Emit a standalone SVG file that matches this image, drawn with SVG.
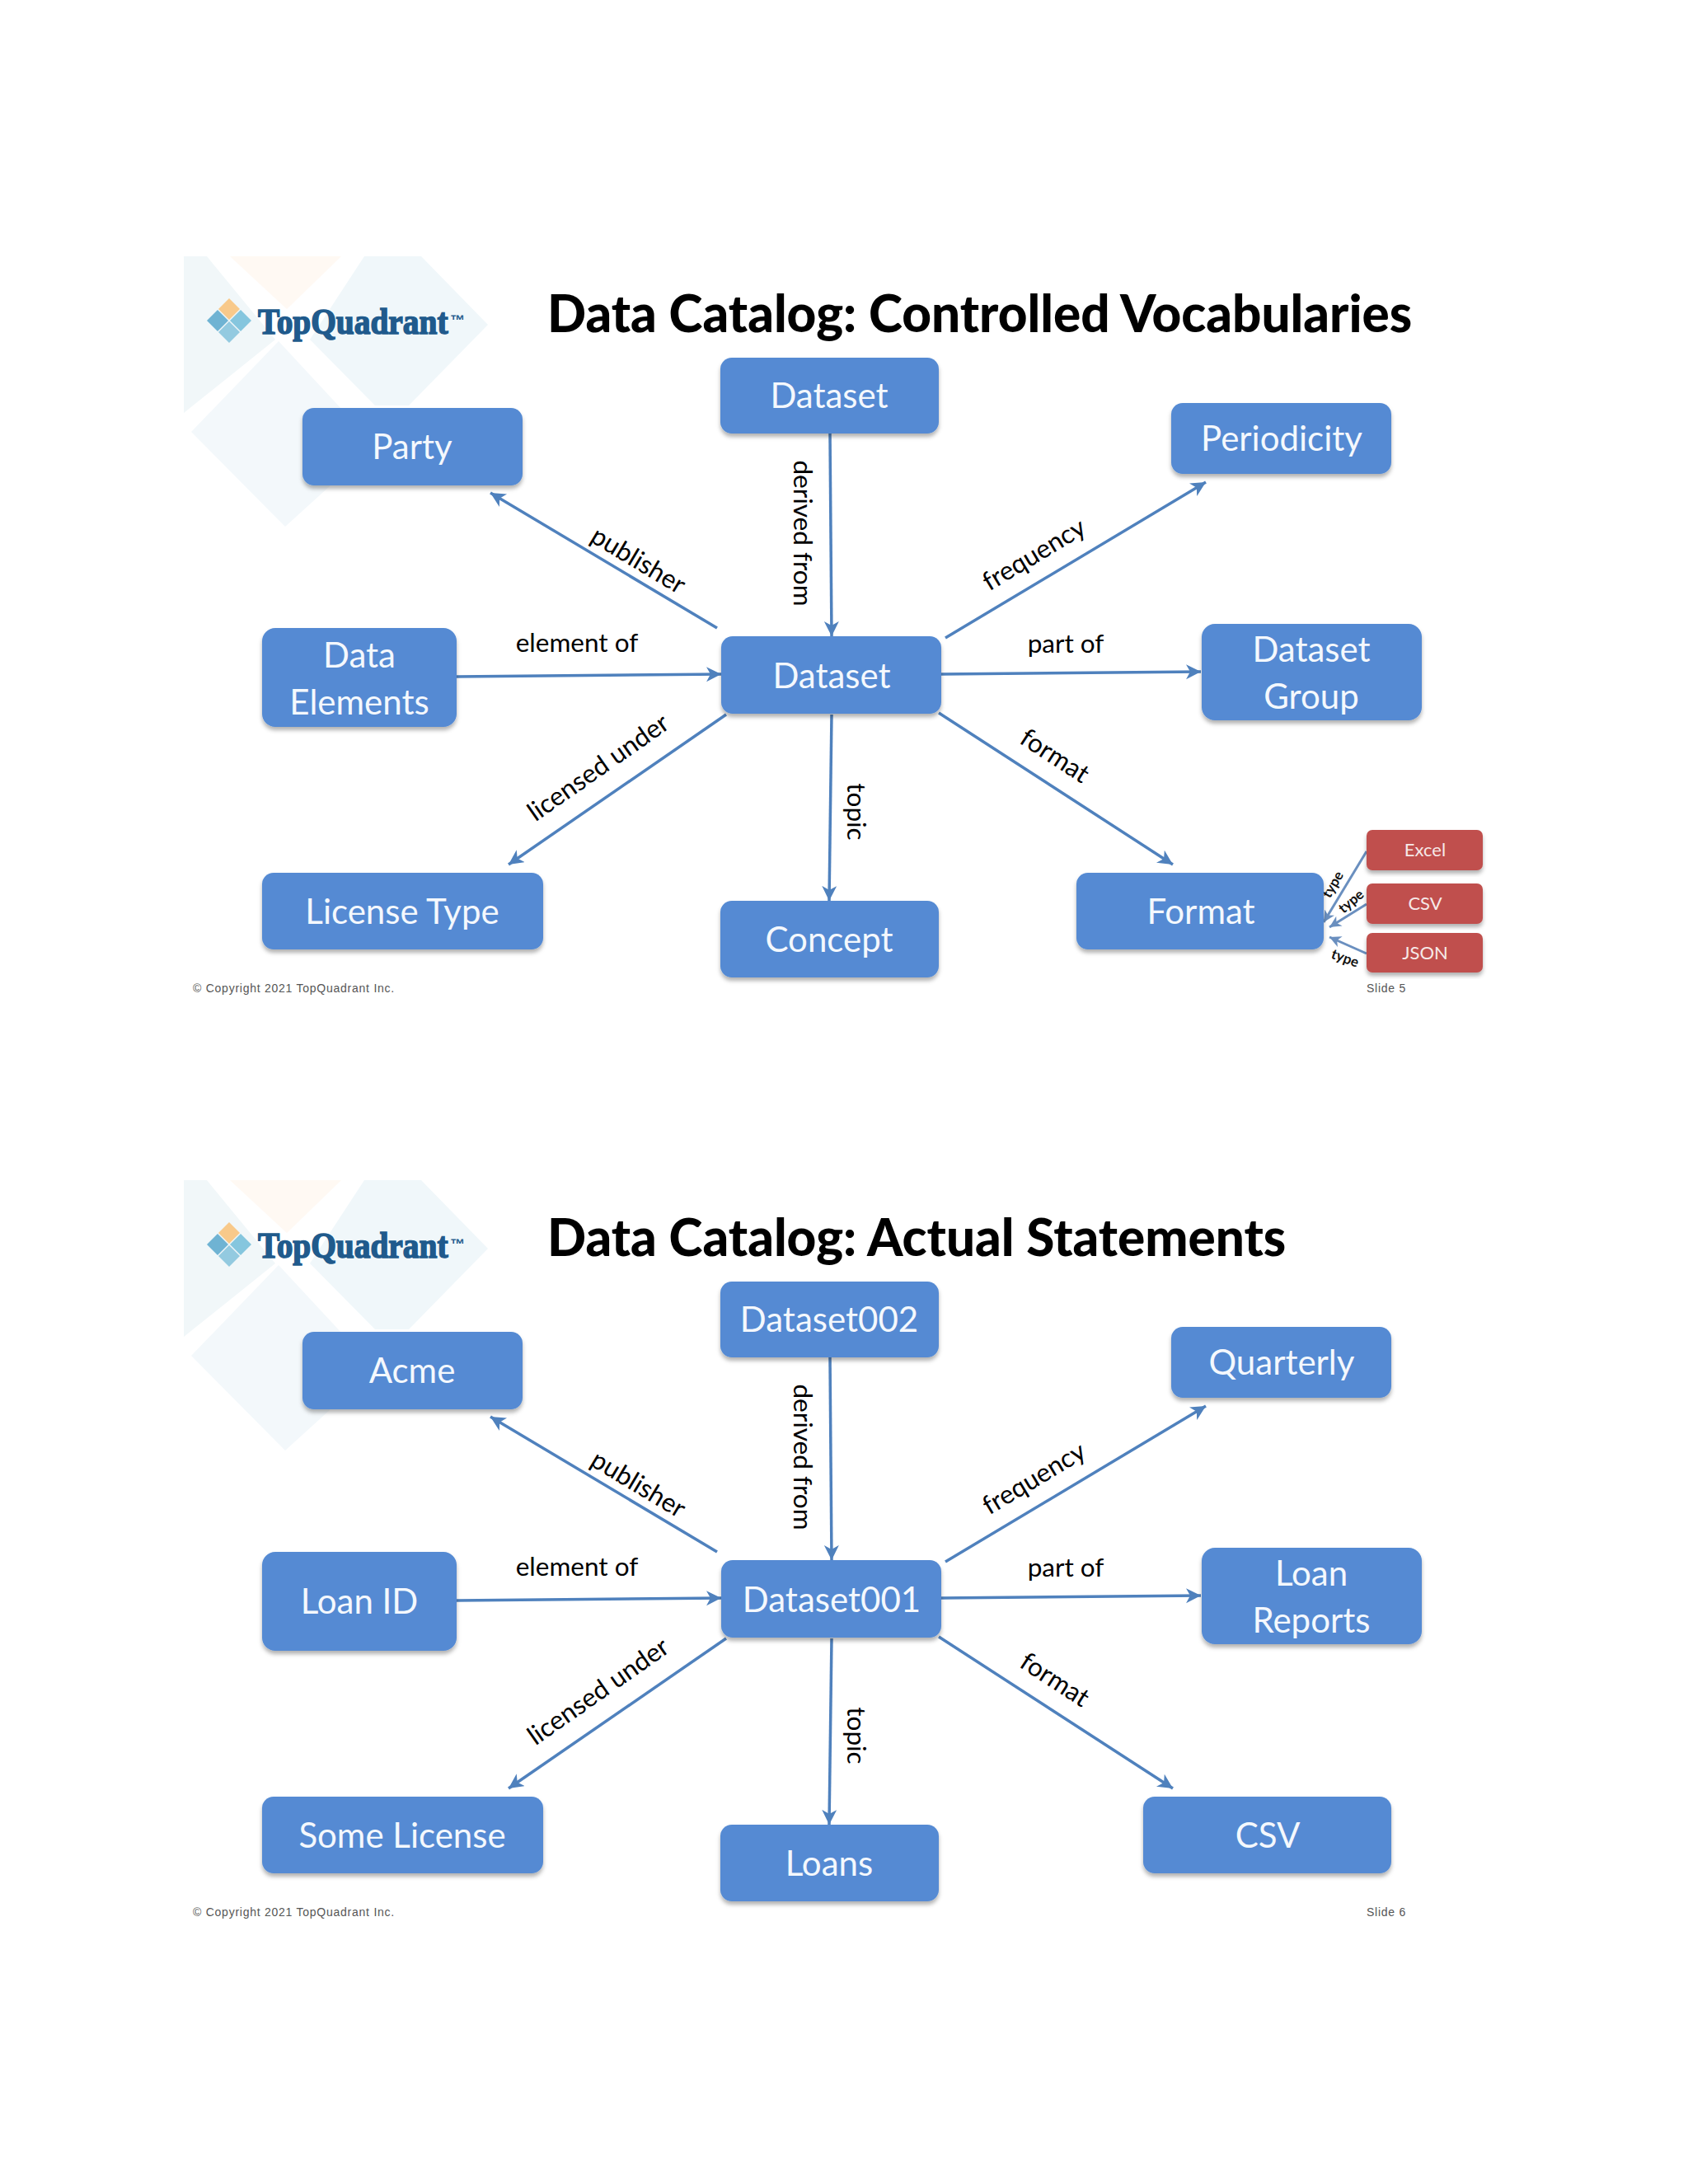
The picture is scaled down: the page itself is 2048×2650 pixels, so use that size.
<svg xmlns="http://www.w3.org/2000/svg" width="2048" height="2650" viewBox="0 0 2048 2650">
<defs>
<style>
.n{fill:#548ad3;filter:url(#sh)}
.r{fill:#c0504d;filter:url(#sh)}
.nt{font-family:Lato,"Noto Sans",sans-serif;font-size:42px;fill:#f4f8fd;text-anchor:middle}
.rt{font-family:Lato,"Noto Sans",sans-serif;font-size:22px;fill:#f6e9e8;text-anchor:middle}
.t{font-family:Lato,"Noto Sans",sans-serif;font-size:62px;font-weight:900;fill:#000}
.l{font-family:Lato,"Noto Sans",sans-serif;font-size:31.5px;fill:#000;text-anchor:middle}
.ty{font-family:Lato,"Noto Sans",sans-serif;font-size:17px;font-weight:700;fill:#111;text-anchor:middle}
.f{font-family:"Liberation Sans",Arial,sans-serif;font-size:14px;fill:#555;letter-spacing:.75px}
.lg{font-family:"Liberation Serif",serif;font-weight:700;font-size:44px;fill:#205a8c;stroke:#205a8c;stroke-width:1.6}
.tm{font-family:"Liberation Sans",sans-serif;font-size:18px;font-weight:700;fill:#205a8c}
.c{fill:none;stroke:#4f81bd;stroke-width:3.5;marker-end:url(#a)}
.c2{fill:none;stroke:#6a8fbf;stroke-width:3;marker-end:url(#a2)}
</style>
<filter id="sh" x="-5%" y="-10%" width="110%" height="125%"><feDropShadow dx="0" dy="4" stdDeviation="2.5" flood-color="#000" flood-opacity=".3"/></filter>
<marker id="a" markerUnits="userSpaceOnUse" markerWidth="22" markerHeight="22" refX="18" refY="9" orient="auto"><path d="M0 0L18 9L0 18L5 9Z" fill="#4f81bd"/></marker>
<marker id="a2" markerUnits="userSpaceOnUse" markerWidth="18" markerHeight="18" refX="14" refY="7" orient="auto"><path d="M0 0L14 7L0 14L4 7Z" fill="#6a8fbf"/></marker>
<g id="bg">
<polygon points="223,311 251,311 334,412 223,501" fill="#f1f7f9"/>
<polygon points="279,311 414,311 348,375" fill="#fff9f3"/>
<polygon points="442,311 511,311 592,394 496,492 455,492 376,412" fill="#f0f7fa"/>
<polygon points="232,524 338,414 455,540 346,639" fill="#f3f8fb"/>
<polygon points="278,362 291,375 278,388 265,375" fill="#f8c98a"/>
<polygon points="264,376 277,389 264,402 251,389" fill="#6fb3d3"/>
<polygon points="292,376 305,389 292,402 279,389" fill="#85c6de"/>
<polygon points="278,390 291,403 278,416 265,403" fill="#93cae0"/>
</g>
</defs>
<rect width="2048" height="2650" fill="#fff"/>

<g id="slide5">
<use href="#bg"/>
<g id="logo5"><text class="lg" transform="translate(313,405) scale(.895,1)">TopQuadrant</text><text class="tm" x="546" y="395">™</text></g>
<text class="t" x="664" y="403">Data Catalog: Controlled Vocabularies</text>
<g id="connectors5">
<line class="c" x1="870" y1="762" x2="595" y2="598"/>
<line class="c" x1="1007" y1="526" x2="1009" y2="772"/>
<line class="c" x1="1147" y1="774" x2="1463" y2="585"/>
<line class="c" x1="554" y1="821" x2="875" y2="818"/>
<line class="c" x1="1142" y1="818" x2="1457" y2="815"/>
<line class="c" x1="881" y1="867" x2="617" y2="1049"/>
<line class="c" x1="1009" y1="867" x2="1006" y2="1093"/>
<line class="c" x1="1139" y1="865" x2="1423" y2="1049"/>
<line class="c2" x1="1658" y1="1033" x2="1606" y2="1119"/>
<line class="c2" x1="1658" y1="1097" x2="1613" y2="1125"/>
<line class="c2" x1="1658" y1="1157" x2="1613" y2="1137"/>
</g>
<g id="labels5">
<text class="l" transform="translate(769,689) rotate(31)">publisher</text>
<text class="l" transform="translate(963,647) rotate(90)">derived from</text>
<text class="l" transform="translate(1260,682) rotate(-31)">frequency</text>
<text class="l" x="700" y="791">element of</text>
<text class="l" x="1293" y="792">part of</text>
<text class="l" transform="translate(732,940) rotate(-35)">licensed under</text>
<text class="l" transform="translate(1274,926) rotate(33)">format</text>
<text class="l" transform="translate(1028,985) rotate(90)">topic</text>
<text class="ty" transform="translate(1622,1076) rotate(-60)">type</text>
<text class="ty" transform="translate(1643,1098) rotate(-40)">type</text>
<text class="ty" transform="translate(1630,1168) rotate(20)">type</text>
</g>
<g id="n5-dataset-top"><rect class="n" x="874" y="434" width="265" height="92" rx="14"/><text class="nt" x="1006" y="495">Dataset</text></g>
<g id="n5-party"><rect class="n" x="367" y="495" width="267" height="94" rx="14"/><text class="nt" x="500" y="557">Party</text></g>
<g id="n5-periodicity"><rect class="n" x="1421" y="489" width="267" height="86" rx="14"/><text class="nt" x="1555" y="547">Periodicity</text></g>
<g id="n5-data-elements"><rect class="n" x="318" y="762" width="236" height="120" rx="16"/><text class="nt" x="436" y="810">Data</text><text class="nt" x="436" y="867">Elements</text></g>
<g id="n5-dataset"><rect class="n" x="875" y="772" width="267" height="94" rx="14"/><text class="nt" x="1009" y="835">Dataset</text></g>
<g id="n5-dataset-group"><rect class="n" x="1458" y="757" width="267" height="117" rx="16"/><text class="nt" x="1591" y="803">Dataset</text><text class="nt" x="1591" y="860">Group</text></g>
<g id="n5-license-type"><rect class="n" x="318" y="1059" width="341" height="93" rx="14"/><text class="nt" x="488" y="1121">License Type</text></g>
<g id="n5-concept"><rect class="n" x="874" y="1093" width="265" height="93" rx="14"/><text class="nt" x="1006" y="1155">Concept</text></g>
<g id="n5-format"><rect class="n" x="1306" y="1059" width="300" height="93" rx="14"/><text class="nt" x="1457" y="1121">Format</text></g>
<g id="n5-excel"><rect class="r" x="1658" y="1007" width="141" height="49" rx="7"/><text class="rt" x="1729" y="1039">Excel</text></g>
<g id="n5-csv"><rect class="r" x="1658" y="1072" width="141" height="49" rx="7"/><text class="rt" x="1729" y="1104">CSV</text></g>
<g id="n5-json"><rect class="r" x="1658" y="1132" width="141" height="48" rx="7"/><text class="rt" x="1729" y="1164">JSON</text></g>
<text class="f" x="234" y="1204">© Copyright 2021  TopQuadrant Inc.</text>
<text class="f" x="1658" y="1204">Slide 5</text>
</g>

<g id="slide6" transform="translate(0,1121)">
<use href="#bg"/>
<g id="logo6"><text class="lg" transform="translate(313,405) scale(.895,1)">TopQuadrant</text><text class="tm" x="546" y="395">™</text></g>
<text class="t" x="664" y="403">Data Catalog: Actual Statements</text>
<g id="connectors6">
<line class="c" x1="870" y1="762" x2="595" y2="598"/>
<line class="c" x1="1007" y1="526" x2="1009" y2="772"/>
<line class="c" x1="1147" y1="774" x2="1463" y2="585"/>
<line class="c" x1="554" y1="821" x2="875" y2="818"/>
<line class="c" x1="1142" y1="818" x2="1457" y2="815"/>
<line class="c" x1="881" y1="867" x2="617" y2="1049"/>
<line class="c" x1="1009" y1="867" x2="1006" y2="1093"/>
<line class="c" x1="1139" y1="865" x2="1423" y2="1049"/>
</g>
<g id="labels6">
<text class="l" transform="translate(769,689) rotate(31)">publisher</text>
<text class="l" transform="translate(963,647) rotate(90)">derived from</text>
<text class="l" transform="translate(1260,682) rotate(-31)">frequency</text>
<text class="l" x="700" y="791">element of</text>
<text class="l" x="1293" y="792">part of</text>
<text class="l" transform="translate(732,940) rotate(-35)">licensed under</text>
<text class="l" transform="translate(1274,926) rotate(33)">format</text>
<text class="l" transform="translate(1028,985) rotate(90)">topic</text>
</g>
<g id="n6-dataset002"><rect class="n" x="874" y="434" width="265" height="92" rx="14"/><text class="nt" x="1006" y="495">Dataset002</text></g>
<g id="n6-acme"><rect class="n" x="367" y="495" width="267" height="94" rx="14"/><text class="nt" x="500" y="557">Acme</text></g>
<g id="n6-quarterly"><rect class="n" x="1421" y="489" width="267" height="86" rx="14"/><text class="nt" x="1555" y="547">Quarterly</text></g>
<g id="n6-loan-id"><rect class="n" x="318" y="762" width="236" height="120" rx="16"/><text class="nt" x="436" y="837">Loan ID</text></g>
<g id="n6-dataset001"><rect class="n" x="875" y="772" width="267" height="94" rx="14"/><text class="nt" x="1009" y="835">Dataset001</text></g>
<g id="n6-loan-reports"><rect class="n" x="1458" y="757" width="267" height="117" rx="16"/><text class="nt" x="1591" y="803">Loan</text><text class="nt" x="1591" y="860">Reports</text></g>
<g id="n6-some-license"><rect class="n" x="318" y="1059" width="341" height="93" rx="14"/><text class="nt" x="488" y="1121">Some License</text></g>
<g id="n6-loans"><rect class="n" x="874" y="1093" width="265" height="93" rx="14"/><text class="nt" x="1006" y="1155">Loans</text></g>
<g id="n6-csv"><rect class="n" x="1387" y="1059" width="301" height="93" rx="14"/><text class="nt" x="1538" y="1121">CSV</text></g>
<text class="f" x="234" y="1204">© Copyright 2021  TopQuadrant Inc.</text>
<text class="f" x="1658" y="1204">Slide 6</text>
</g>
</svg>
